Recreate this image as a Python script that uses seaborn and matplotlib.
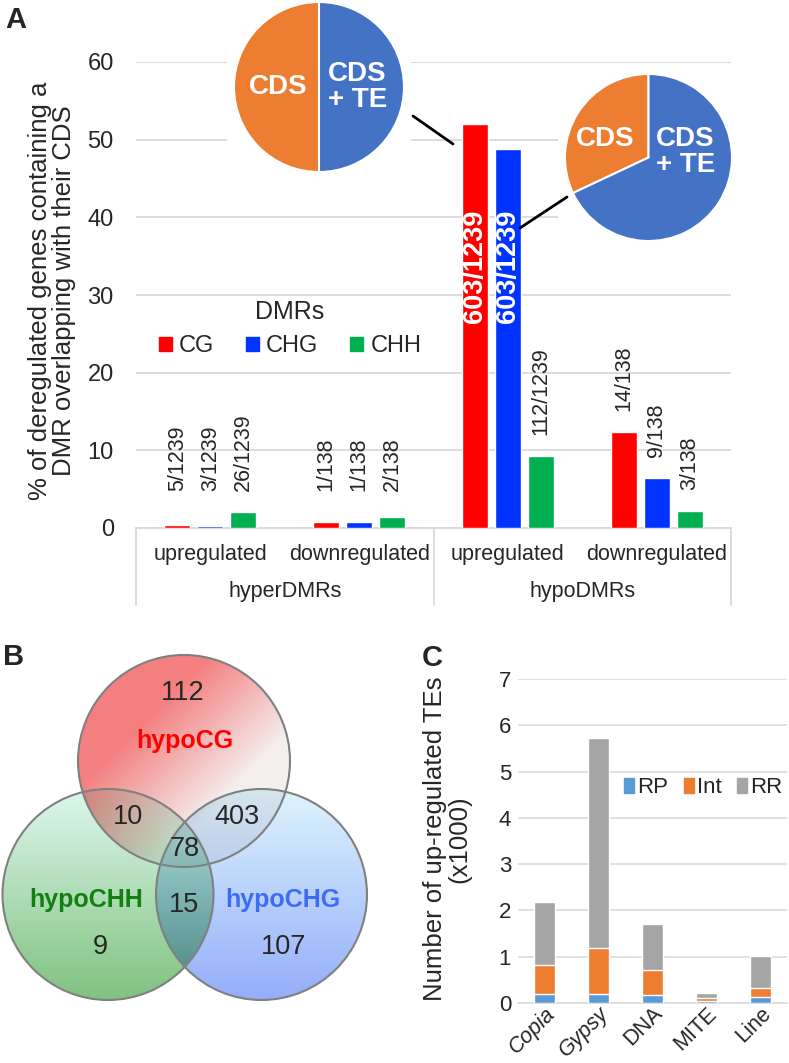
import numpy as np
import pandas as pd
import matplotlib
matplotlib.use("Agg")
import matplotlib.pyplot as plt
import seaborn as sns
from matplotlib.patches import Patch, Circle, Rectangle
from matplotlib.lines import Line2D

# ---------------- data ----------------
dmr_groups = ["hyperDMRs", "hypoDMRs"]
regulation = ["upregulated", "downregulated"]
dmr_types = ["CG", "CHG", "CHH"]
pct_CG = [0.45, 0.73, 52.0, 12.3]
pct_CHG = [0.25, 0.73, 48.8, 6.5]
pct_CHH = [2.1, 1.45, 9.3, 2.2]
lab_CG = ["5/1239", "1/138", "603/1239", "14/138"]
lab_CHG = ["3/1239", "1/138", "603/1239", "9/138"]
lab_CHH = ["26/1239", "2/138", "112/1239", "3/138"]

pie_labels = ["CDS", "CDS\n+ TE"]
pie_upCG = [50, 50]
pie_upCHG = [32, 68]

venn_sets = ["hypoCG", "hypoCHH", "hypoCHG"]
venn_regions = ["CG", "CG&CHH", "CG&CHG", "all", "CHH&CHG", "CHH", "CHG"]
venn_counts = [112, 10, 403, 78, 15, 9, 107]

te_families = ["Copia", "Gypsy", "DNA", "MITE", "Line"]
te_parts = ["RP", "Int", "RR"]
te_RP = [0.20, 0.20, 0.17, 0.04, 0.14]
te_Int = [0.62, 0.98, 0.55, 0.06, 0.19]
te_RR = [1.37, 4.54, 0.99, 0.12, 0.69]

# ---------------- style ----------------
sns.set_theme(style="white")
plt.rcParams["font.family"] = ["Liberation Sans", "DejaVu Sans"]

RED, BLUE, GREEN = "#ff0000", "#0033ff", "#00b050"
ORANGE, PBLUE = "#ed7d31", "#4472c4"
GRID = "#d9d9d9"

W, H = 789, 1063
fig = plt.figure(figsize=(W / 100, H / 100), dpi=100)
fig.patch.set_facecolor("white")


def fax(x0, y0, x1, y1, **kw):
    return fig.add_axes([x0 / W, 1 - y1 / H, (x1 - x0) / W, (y1 - y0) / H], **kw)


def fpt(x, y):
    return (x / W, 1 - y / H)


# ================= Panel A =================
axA = fax(136, 62, 731, 528)
cats = [f"{g}|{r}" for g in dmr_groups for r in regulation]
dfA = pd.DataFrame({
    "cat": cats * 3,
    "dmr": np.repeat(dmr_types, len(cats)),
    "pct": pct_CG + pct_CHG + pct_CHH,
})
sns.barplot(data=dfA, x="cat", y="pct", hue="dmr", order=cats, hue_order=dmr_types,
            palette=[RED, BLUE, GREEN], width=0.666, gap=0.21, saturation=1,
            errorbar=None, legend=False, ax=axA, zorder=3)
axA.set_ylim(0, 60)
axA.set_xlim(-0.5, len(cats) - 0.5)
axA.set_yticks(range(0, 61, 10))
axA.yaxis.grid(True, color=GRID, lw=1.3, zorder=0)
axA.set_axisbelow(True)
for s in ["left", "right", "top"]:
    axA.spines[s].set_visible(False)
axA.spines["bottom"].set_color(GRID)
axA.spines["bottom"].set_linewidth(1.3)
axA.set_xticks([])
axA.set_xlabel("")
axA.set_ylabel("")
axA.tick_params(axis="y", length=0, pad=16, labelsize=17)

for cont, labs in zip(axA.containers, [lab_CG, lab_CHG, lab_CHH]):
    for bar, lab in zip(cont, labs):
        x = bar.get_x() + bar.get_width() / 2
        h = bar.get_height()
        if h > 30:
            axA.text(x, 33.7, lab, rotation=90, ha="center", va="center",
                     color="white", fontweight="bold", fontsize=19.5, zorder=5)
        else:
            axA.text(x, max(h + 2.7, 4.7), lab, rotation=90, ha="center",
                     va="bottom", fontsize=15.5, zorder=5)

tr = axA.get_xaxis_transform()
for xb in [-0.5, 1.5, 3.5]:
    axA.plot([xb, xb], [0, -77 / 466], color=GRID, lw=1.3, transform=tr, clip_on=False)
for i, c in enumerate(cats):
    axA.text(i, -27 / 466, c.split("|")[1], ha="center", va="center",
             fontsize=15.5, transform=tr)
for j, g in enumerate(dmr_groups):
    axA.text(2 * j + 0.5, -64 / 466, g, ha="center", va="center",
             fontsize=15.5, transform=tr)

handles = [Patch(color=c) for c in [RED, BLUE, GREEN]]
leg = axA.legend(handles, dmr_types, title="DMRs", ncol=3, frameon=False,
                 loc="center", bbox_to_anchor=(0.259, 0.428), fontsize=17,
                 title_fontsize=18, handlelength=0.55, handleheight=0.55,
                 handletextpad=0.3, columnspacing=1.35)

fig.text(*fpt(52, 291), "% of deregulated genes containing a\nDMR overlapping with their CDS",
         rotation=90, ha="center", va="center", fontsize=18.5, linespacing=1.05,
         multialignment="center")

# pies
def draw_pie(box, r_px, vals, lab_pos):
    x0, y0, x1, y1 = box
    ax = fax(x0, y0, x1, y1)
    ax.add_patch(Rectangle((-1.5, -1.5), 3, 3, color="white", zorder=0))
    ax.pie(vals, colors=[ORANGE, PBLUE], startangle=90, counterclock=True,
           wedgeprops=dict(edgecolor="white", linewidth=1.5))
    lim = (x1 - x0) / 2 / r_px
    ax.set_xlim(-lim, lim)
    ax.set_ylim(-lim, lim)
    for lab, (lx, ly) in zip(pie_labels, lab_pos):
        ax.text(lx, ly, lab, ha="center", va="center", color="white",
                fontweight="bold", fontsize=20, linespacing=1.0)
    return ax

draw_pie((227, -5, 411, 179), 85, pie_upCG, [(-0.48, 0.0), (0.45, 0.0)])
draw_pie((558, 67, 739, 248), 83.5, pie_upCHG, [(-0.52, 0.22), (0.44, 0.06)])

for (xa, ya), (xb, yb) in [((413, 116), (453, 144)), ((520, 228), (567, 197))]:
    fig.add_artist(Line2D([xa / W, xb / W], [1 - ya / H, 1 - yb / H], color="black",
                          lw=2, transform=fig.transFigure, zorder=10))

# ================= Panel B =================
axB = fax(0, 640, 380, 1020)
axB.set_xlim(0, 380)
axB.set_ylim(1020, 640)
axB.axis("off")
circles = [(184, 761, 106), (108, 894.5, 105.5), (261.5, 894.5, 105.5)]
xs = np.linspace(0, 380, 760)
ys = np.linspace(640, 1020, 760)
X, Y = np.meshgrid(xs, ys)
img = np.ones(X.shape + (3,))
# red (diagonal gradient)
cx, cy, r = circles[0]
t = np.clip(((X - cx) + (Y - cy)) / (2 * r * 0.75) + 0.5, 0, 1)[..., None]
c0, c1 = np.array([0.96, 0.50, 0.50]), np.array([0.96, 0.94, 0.94])
col_red = c0 * (1 - t) + c1 * t
# green (vertical)
cx2, cy2, r2 = circles[1]
t2 = np.clip((Y - (cy2 - r2)) / (2 * r2), 0, 1)[..., None]
col_green = np.array([0.87, 0.97, 0.93]) * (1 - t2) + np.array([0.50, 0.76, 0.50]) * t2
# blue (vertical)
cx3, cy3, r3 = circles[2]
t3 = np.clip((Y - (cy3 - r3)) / (2 * r3), 0, 1)[..., None]
col_blue = np.array([0.87, 0.96, 0.99]) * (1 - t3) + np.array([0.58, 0.68, 0.98]) * t3
for (cx_, cy_, r_), col in zip(circles, [col_red, col_green, col_blue]):
    m = (((X - cx_) ** 2 + (Y - cy_) ** 2) < r_ ** 2)[..., None]
    img = np.where(m, img * col, img)
axB.imshow(img, extent=(0, 380, 1020, 640), origin="upper", interpolation="bilinear", zorder=0)
for cx_, cy_, r_ in circles:
    axB.add_patch(Circle((cx_, cy_), r_, fill=False, edgecolor="#808080", lw=1.5, zorder=2))
num_pos = [(183, 693), (128, 817), (237, 817), (185, 849), (184, 905), (100, 947), (284, 947)]
for (px, py), n in zip(num_pos, venn_counts):
    axB.text(px, py, str(n), ha="center", va="center", fontsize=19.5, zorder=3)
set_pos = [(185, 741), (86, 900), (283, 900)]
set_cols = [RED, "#118011", "#3d6cf5"]
for (px, py), s, c in zip(set_pos, venn_sets, set_cols):
    axB.text(px, py, s, ha="center", va="center", fontsize=18, fontweight="bold",
             color=c, zorder=3)

# ================= Panel C =================
axC = fax(518, 679, 787, 1003)
dfC = pd.DataFrame({"family": te_families, "RP": te_RP, "Int": te_Int, "RR": te_RR})
dfC["RP_top"] = dfC["RP"]
dfC["Int_top"] = dfC["RP"] + dfC["Int"]
dfC["RR_top"] = dfC["Int_top"] + dfC["RR"]
te_cols = ["#5b9bd5", ORANGE, "#a5a5a5"]
for col, c in zip(["RR_top", "Int_top", "RP_top"], te_cols[::-1]):
    sns.barplot(data=dfC, x="family", y=col, color=c, saturation=1, width=0.39,
                errorbar=None, ax=axC, zorder=3)
axC.set_ylim(0, 7)
axC.set_xlim(-0.5, 4.5)
axC.set_yticks(range(0, 8))
axC.yaxis.grid(True, color=GRID, lw=1.1, zorder=0)
axC.set_axisbelow(True)
for s in ["left", "right", "top"]:
    axC.spines[s].set_visible(False)
axC.spines["bottom"].set_color(GRID)
axC.spines["bottom"].set_linewidth(1.1)
axC.set_xlabel("")
axC.set_ylabel("")
axC.tick_params(axis="y", length=0, pad=5, labelsize=16)
axC.tick_params(axis="x", length=0, pad=0)
axC.set_xticks(range(len(te_families)))
axC.set_xticklabels(te_families, rotation=45, ha="right", rotation_mode="anchor", fontsize=15.5)
for lab in axC.get_xticklabels():
    if lab.get_text() in ("Copia", "Gypsy"):
        lab.set_fontstyle("italic")
hC = [Patch(color=c) for c in te_cols]
axC.legend(hC, te_parts, ncol=3, frameon=False, loc="center left",
           bbox_to_anchor=(0.36, 0.664), fontsize=16, handlelength=0.45,
           handleheight=0.6, handletextpad=0.15, columnspacing=0.7, borderaxespad=0)
fig.text(*fpt(447, 839), "Number of up-regulated TEs\n(x1000)", rotation=90,
         ha="center", va="center", fontsize=18.5, linespacing=1.05, multialignment="center")

# panel letters
fig.text(*fpt(16, 20), "A", ha="center", va="center", fontsize=21, fontweight="bold")
fig.text(*fpt(14, 657), "B", ha="center", va="center", fontsize=21, fontweight="bold")
fig.text(*fpt(432, 658), "C", ha="center", va="center", fontsize=21, fontweight="bold")

fig.savefig("out.png", dpi=100, facecolor="white")
